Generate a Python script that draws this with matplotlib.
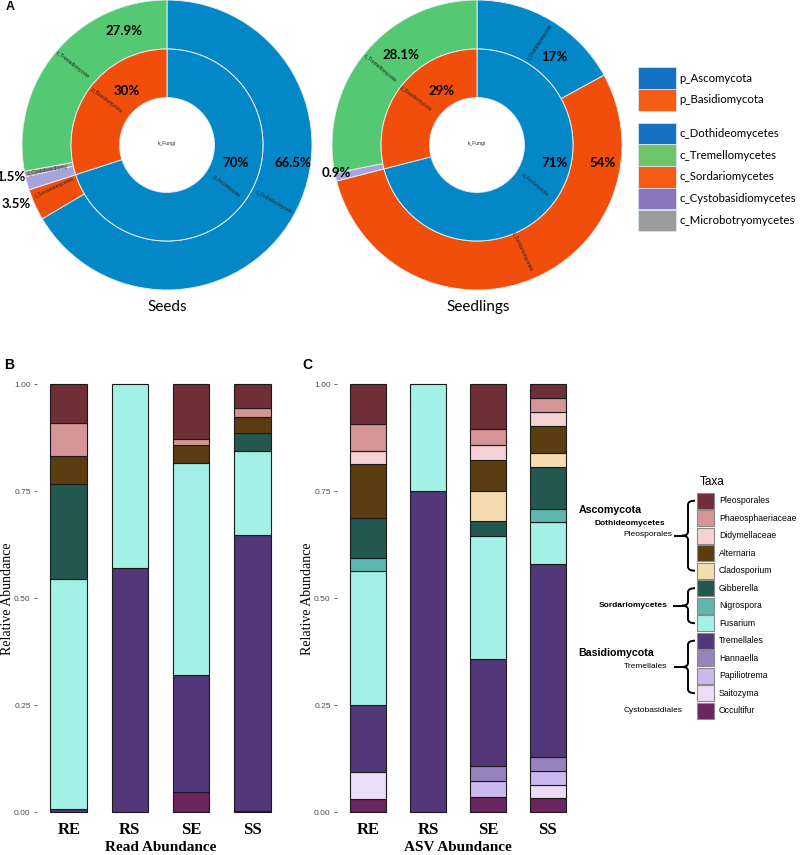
import numpy as np
import matplotlib
matplotlib.use("Agg")
import matplotlib.pyplot as plt
from matplotlib.patches import Rectangle, PathPatch
from matplotlib.path import Path

W, H = 800, 855

# ---------------- panel A data ----------------
seeds_phylum_names = ['p_Ascomycota', 'p_Basidiomycota']
seeds_phylum = [70, 30]
seedlings_phylum = [71, 29]
# outer ring, clockwise from 12 o'clock
seeds_class_names = ['c_Dothideomycetes', 'c_Sordariomycetes', 'c_Cystobasidiomycetes',
                     'c_Microbotryomycetes', 'c_Tremellomycetes']
seeds_class = [66.5, 3.5, 1.5, 0.6, 27.9]
seedlings_class_names = ['c_Dothideomycetes', 'c_Sordariomycetes', 'c_Cystobasidiomycetes',
                         'c_Tremellomycetes']
seedlings_class = [17, 54, 0.9, 28.1]

pie_colors = {'p_Ascomycota': '#0487c6', 'p_Basidiomycota': '#f24e0b',
              'c_Dothideomycetes': '#0487c6', 'c_Tremellomycetes': '#54c872',
              'c_Sordariomycetes': '#f24e0b', 'c_Cystobasidiomycetes': '#a8a3dc',
              'c_Microbotryomycetes': '#9b9b9b'}
legend_phyla = ['p_Ascomycota', 'p_Basidiomycota']
legend_classes = ['c_Dothideomycetes', 'c_Tremellomycetes', 'c_Sordariomycetes',
                  'c_Cystobasidiomycetes', 'c_Microbotryomycetes']
legend_colors = {'p_Ascomycota': '#1471c1', 'p_Basidiomycota': '#f75c14',
                 'c_Dothideomycetes': '#1471c1', 'c_Tremellomycetes': '#6cc56b',
                 'c_Sordariomycetes': '#f75c14', 'c_Cystobasidiomycetes': '#8a75bd',
                 'c_Microbotryomycetes': '#9a9c9e'}

# ---------------- panels B / C data ----------------
samples = ['RE', 'RS', 'SE', 'SS']
taxa = ['Pleosporales', 'Phaeosphaeriaceae', 'Didymellaceae', 'Alternaria', 'Cladosporium',
        'Gibberella', 'Nigrospora', 'Fusarium', 'Tremellales', 'Hannaella', 'Papiliotrema',
        'Saitozyma', 'Occultifur']
taxa_colors = ['#6e3036', '#d59597', '#f6d1d3', '#5c3c11', '#f7dcb0', '#235850', '#5cb8ae',
               '#a3f0e6', '#523878', '#9582be', '#c9b9ee', '#ecdcf8', '#6b2660']

read_RE = [0.090, 0.079, 0, 0.065, 0, 0.222, 0, 0.538, 0.006, 0, 0, 0, 0]
read_RS = [0, 0, 0, 0, 0, 0, 0, 0.429, 0.571, 0, 0, 0, 0]
read_SE = [0.129, 0.014, 0, 0.041, 0, 0, 0, 0.496, 0.274, 0, 0, 0, 0.046]
read_SS = [0.057, 0.021, 0, 0.037, 0, 0.041, 0, 0.196, 0.645, 0, 0, 0, 0.003]

asv_RE = [0.094, 0.063, 0.031, 0.125, 0, 0.094, 0.031, 0.313, 0.156, 0, 0, 0.062, 0.031]
asv_RS = [0, 0, 0, 0, 0, 0, 0, 0.25, 0.75, 0, 0, 0, 0]
asv_SE = [0.107, 0.036, 0.036, 0.071, 0.071, 0.036, 0, 0.286, 0.250, 0.036, 0.036, 0, 0.036]
asv_SS = [0.032, 0.032, 0.032, 0.065, 0.032, 0.097, 0.032, 0.097, 0.452, 0.032, 0.032, 0.032, 0.032]

yticks = [0, 0.25, 0.5, 0.75, 1.0]
ytick_labels = ['0.00', '0.25', '0.50', '0.75', '1.00']

fig = plt.figure(figsize=(8, 8.55), dpi=100)


def px_axes(x0, y0, x1, y1):
    return fig.add_axes([x0 / W, 1 - y1 / H, (x1 - x0) / W, (y1 - y0) / H])


R = 145.0  # outer radius in px


def donut(cx, cy, inner_vals, inner_names, outer_vals, outer_names):
    s = 152
    ax = px_axes(cx - s, cy - s, cx + s, cy + s)
    wp = dict(edgecolor='#e4ecf0', linewidth=0.7)
    ax.pie(outer_vals, radius=1, startangle=90, counterclock=False,
           colors=[pie_colors[n] for n in outer_names], wedgeprops=dict(width=0.338, **wp))
    ax.pie(inner_vals, radius=0.662, startangle=90, counterclock=False,
           colors=[pie_colors[n] for n in inner_names], wedgeprops=dict(width=0.335, **wp))
    lim = s / R
    ax.set_xlim(-lim, lim)
    ax.set_ylim(-lim, lim)
    ax.set_aspect('auto')
    ax.axis('off')
    return ax


donut(167, 145, seeds_phylum, seeds_phylum_names, seeds_class, seeds_class_names)
donut(477, 145, seedlings_phylum, seeds_phylum_names, seedlings_class, seedlings_class_names)


def stacked(ax, per_sample):
    x = np.arange(1, len(samples) + 1)
    vals = np.array(per_sample).T
    bottom = np.zeros(len(samples))
    for i in range(len(taxa) - 1, -1, -1):
        v = vals[i]
        m = v > 0
        if m.any():
            ax.bar(x[m], v[m], bottom=bottom[m], width=0.6, color=taxa_colors[i],
                   edgecolor='#1a1a1a', linewidth=0.8)
        bottom += v
    ax.set_xlim(0.48, 4.52)
    ax.set_ylim(-0.005, 1.005)
    for sp in ax.spines.values():
        sp.set_visible(False)
    ax.set_yticks(yticks)
    ax.set_yticklabels(ytick_labels, fontsize=6, color='#4d4d4d', family='Liberation Sans')
    ax.tick_params(axis='y', length=2.5, width=0.6, color='#4d4d4d', pad=2)
    ax.set_xticks(x)
    ax.set_xticklabels(samples, fontsize=12, fontweight='bold', family='Liberation Serif')
    ax.tick_params(axis='x', length=0, pad=6)


def ypx(v):
    return 812 - 428 * v


axB = px_axes(37, ypx(1.005), 284, ypx(-0.005))
stacked(axB, [read_RE, read_RS, read_SE, read_SS])
axC = px_axes(337, ypx(1.005), 579, ypx(-0.005))
stacked(axC, [asv_RE, asv_RS, asv_SE, asv_SS])

# ---------------- overlay in pixel coordinates ----------------
ov = fig.add_axes([0, 0, 1, 1])
ov.set_xlim(0, W)
ov.set_ylim(H, 0)
ov.axis('off')
ov.patch.set_visible(False)

lato = 'Lato'
ov.text(10, 7, 'A', fontsize=9, fontweight='bold', ha='center', va='center', family='Liberation Sans')
ov.text(9, 365, 'B', fontsize=10, fontweight='bold', ha='center', va='center', family='Liberation Sans')
ov.text(307, 365, 'C', fontsize=10, fontweight='bold', ha='center', va='center', family='Liberation Sans')

pct_labels = [('27.9%', 124, 31), ('30%', 127, 91), ('70%', 236, 163), ('66.5%', 293, 163),
              ('1.5%', 11, 177), ('3.5%', 16, 204),
              ('28.1%', 401, 55), ('29%', 442, 91), ('17%', 554, 57), ('71%', 554, 163),
              ('54%', 603, 163), ('0.9%', 336, 173)]
for t, x, y in pct_labels:
    ov.text(x, y, t, fontsize=9.5, fontweight='bold', ha='center', va='center', family=lato)

small_labels = [('c_Tremellomycete', 72, 65, -38), ('p_Basidiomycota', 107, 101, -37),
                ('k_Fungi', 167, 143, 0), ('p_Ascomycota', 226, 186, -38),
                ('c_Dothideomycete', 274, 202, -30), ('c_Cystobasidiomy', 48, 170, 10),
                ('c_Sordariomycetes', 54, 188, 25),
                ('c_Tremellomycete', 380, 68, -40), ('p_Basidiomycota', 416, 99, -37),
                ('k_Fungi', 477, 143, 0), ('c_Dothideomycete', 540, 42, 57),
                ('p_Ascomycota', 535, 185, -40), ('c_Sordariomycetes', 522, 252, -65)]
for t, x, y, rot in small_labels:
    ov.text(x, y, t, fontsize=3.6, ha='center', va='center', rotation=rot,
            rotation_mode='anchor', color='#222222', family='Liberation Sans')

ov.text(167, 307, 'Seeds', fontsize=11, ha='center', va='center', family=lato)
ov.text(478, 307, 'Seedlings', fontsize=11, ha='center', va='center', family=lato)

# panel A legend
for grp, top in ((legend_phyla, 67.3), (legend_classes, 122.7)):
    for k, name in enumerate(grp):
        y0 = top + 21.7 * k
        ov.add_patch(Rectangle((638, y0), 38, 21.7, facecolor=legend_colors[name],
                               edgecolor='#d8e4ee', linewidth=0.6))
        ov.text(679.5, y0 + 10.9, name, fontsize=8.2, ha='left', va='center', family=lato)

# bar axis labels
ov.text(8, 599, 'Relative Abundance', fontsize=10, rotation=90, ha='center', va='center',
        family='Liberation Serif')
ov.text(307.5, 599, 'Relative Abundance', fontsize=10, rotation=90, ha='center', va='center',
        family='Liberation Serif')
ov.text(161, 847, 'Read Abundance', fontsize=11, fontweight='bold', ha='center', va='center',
        family='Liberation Serif')
ov.text(458, 847, 'ASV Abundance', fontsize=11, fontweight='bold', ha='center', va='center',
        family='Liberation Serif')

# taxa legend
ov.text(712, 482, 'Taxa', fontsize=8.5, ha='center', va='center', family='Liberation Sans')
row0, pitch = 492.7, 17.5
for i, (name, col) in enumerate(zip(taxa, taxa_colors)):
    y0 = row0 + pitch * i
    ov.add_patch(Rectangle((697, y0), 16.5, 15.8, facecolor=col, edgecolor='#8a8a8a', linewidth=0.8))
    ov.text(719, y0 + 8, name, fontsize=6.2, ha='left', va='center', family='Liberation Sans')


def brace(y0, y1, x=688, tip=6, hook=7, r=4):
    ym = (y0 + y1) / 2
    verts = [(x + hook, y0), (x, y0), (x, y0 + r), (x, ym - r), (x, ym), (x - tip, ym),
             (x, ym), (x, ym + r), (x, y1 - r), (x, y1), (x + hook, y1)]
    codes = [Path.MOVETO, Path.CURVE3, Path.CURVE3, Path.LINETO, Path.CURVE3, Path.CURVE3,
             Path.CURVE3, Path.CURVE3, Path.LINETO, Path.CURVE3, Path.CURVE3]
    ov.add_patch(PathPatch(Path(verts, codes), fill=False, lw=1.4, color='black'))
    return ym


rc = [row0 + 8 + pitch * i for i in range(len(taxa))]
ym1 = brace(rc[0], rc[4])
ov.plot([675, 682], [ym1, ym1], color='black', lw=1.4)
ym2 = brace(rc[5], rc[7])
ov.plot([674, 682], [ym2, ym2], color='black', lw=1.4)
ym3 = brace(rc[8], rc[11])
ov.plot([675, 682], [ym3, ym3], color='black', lw=1.4)

ov.text(579, 510, 'Ascomycota', fontsize=7.7, fontweight='bold', ha='left', va='center', family='Liberation Sans')
ov.text(665, 523, 'Dothideomycetes', fontsize=6, fontweight='bold', ha='right', va='center', family='Liberation Sans')
ov.text(672, 534, 'Pleosporales', fontsize=6, ha='right', va='center', family='Liberation Sans')
ov.text(668, ym2, 'Sordariomycetes', fontsize=6, fontweight='bold', ha='right', va='center', family='Liberation Sans')
ov.text(578, 653, 'Basidiomycota', fontsize=7.7, fontweight='bold', ha='left', va='center', family='Liberation Sans')
ov.text(667, ym3, 'Tremellales', fontsize=6, ha='right', va='center', family='Liberation Sans')
ov.text(682, 710, 'Cystobasidiales', fontsize=6, ha='right', va='center', family='Liberation Sans')

fig.savefig('out.png', dpi=100)
